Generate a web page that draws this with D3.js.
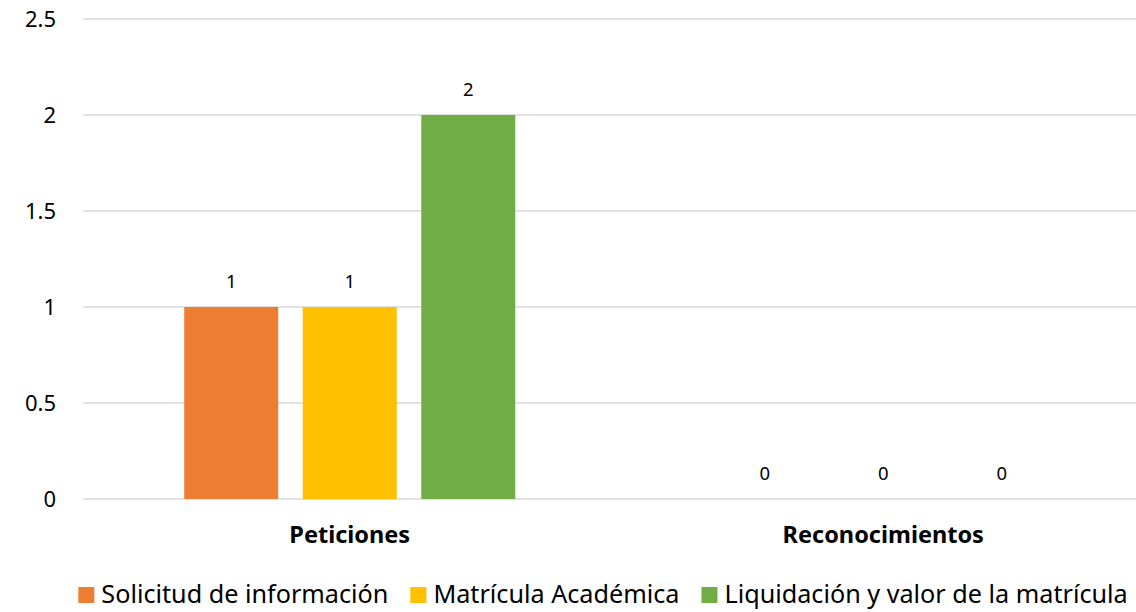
<!DOCTYPE html>
<html><head><meta charset="utf-8">
<script src="https://cdn.jsdelivr.net/npm/d3@7"></script>
<style>html,body{margin:0;padding:0;background:#fff;overflow:hidden}</style>
</head><body>
<svg id="c" width="1136" height="612"></svg>
<script>
const categories = ["Peticiones", "Reconocimientos"];
const seriesNames = ["Solicitud de información", "Matrícula Académica", "Liquidación y valor de la matrícula"];
const solicitud = [1, 0];
const matricula = [1, 0];
const liquidacion = [2, 0];
const yTicks = [0, 0.5, 1, 1.5, 2, 2.5];
const colors = ["#ED7D31", "#FFC000", "#70AD47"];

const seriesValues = [solicitud, matricula, liquidacion];
const svg = d3.select("#c");
const font = "'Noto Sans', 'Open Sans', sans-serif";
const W = 1136, H = 612;
const m = {left: 83, right: -14, top: 19, bottom: 113};

const x0 = d3.scaleBand().domain(categories).range([m.left, W - m.right]).paddingInner(0).paddingOuter(0);
const x1 = d3.scaleBand().domain(seriesNames).range([0, x0.bandwidth()]).paddingInner(0.207).paddingOuter(0.854);
const y = d3.scaleLinear().domain([0, 2.5]).range([H - m.bottom, m.top]);

// gridlines
svg.append("g").selectAll("line").data(yTicks).join("line")
  .attr("x1", m.left).attr("x2", W)
  .attr("y1", d => y(d)).attr("y2", d => y(d))
  .attr("stroke", "#d9d9d9").attr("stroke-width", 1.3);

// y axis labels
const yAxis = d3.axisLeft(y).tickValues(yTicks).tickSize(0).tickPadding(0).tickFormat(d3.format("~g"));
const ya = svg.append("g").attr("transform", `translate(56,0)`).call(yAxis);
ya.select(".domain").remove();
ya.selectAll("text").attr("font-family", font).attr("font-size", 22).attr("fill", "#000");

// bars
const groups = svg.append("g").selectAll("g").data(categories).join("g")
  .attr("transform", d => `translate(${x0(d)},0)`);
groups.selectAll("rect").data((c, i) => seriesNames.map((s, j) => ({s, v: seriesValues[j][i], j})))
  .join("rect")
  .attr("x", d => x1(d.s)).attr("width", x1.bandwidth())
  .attr("y", d => y(d.v)).attr("height", d => y(0) - y(d.v))
  .attr("fill", d => colors[d.j]);
groups.selectAll("text.lbl").data((c, i) => seriesNames.map((s, j) => ({s, v: seriesValues[j][i], j})))
  .join("text").attr("class", "lbl")
  .attr("x", d => x1(d.s) + x1.bandwidth() / 2)
  .attr("y", d => y(d.v) - 19)
  .attr("text-anchor", "middle")
  .attr("font-family", font).attr("font-size", 18.5).attr("fill", "#000")
  .text(d => d.v);

// x axis category labels
svg.append("g").selectAll("text").data(categories).join("text")
  .attr("x", d => x0(d) + x0.bandwidth() / 2)
  .attr("y", 543)
  .attr("text-anchor", "middle")
  .attr("font-family", font).attr("font-size", 23.5).attr("font-weight", "bold").attr("fill", "#000")
  .text(d => d);

// legend
const lg = svg.append("g");
const items = lg.selectAll("g").data(seriesNames).join("g");
items.append("rect").attr("width", 16).attr("height", 16).attr("y", -16).attr("fill", (d, i) => colors[i]);
items.append("text").attr("x", 23).attr("y", 0)
  .attr("font-family", font).attr("font-size", 25.2).attr("fill", "#000").text(d => d);
let xpos = 0; const gap = 22;
const offs = [];
items.each(function(d) {
  const w = 23 + this.querySelector("text").getComputedTextLength();
  offs.push(xpos); xpos += w + gap;
});
const total = xpos - gap;
const legendCenter = 603;
const start = legendCenter - total / 2;
items.attr("transform", (d, i) => `translate(${start + offs[i]},603)`);
</script>
</body></html>
